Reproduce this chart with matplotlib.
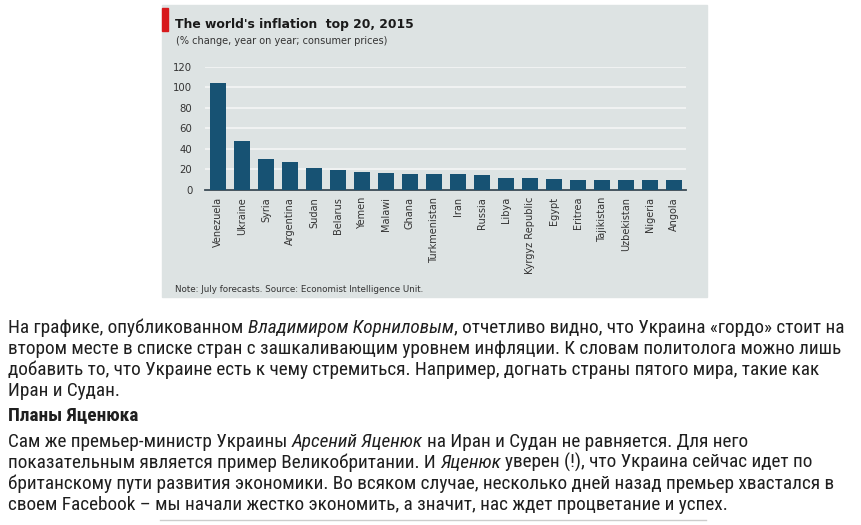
import matplotlib
matplotlib.use('Agg')
import matplotlib.pyplot as plt
from matplotlib import font_manager
from matplotlib.patches import Rectangle

# chart data
countries = ['Venezuela', 'Ukraine', 'Syria', 'Argentina', 'Sudan', 'Belarus', 'Yemen',
             'Malawi', 'Ghana', 'Turkmenistan', 'Iran', 'Russia', 'Libya', 'Kyrgyz Republic',
             'Egypt', 'Eritrea', 'Tajikistan', 'Uzbekistan', 'Nigeria', 'Angola']
inflation = [104, 48, 30, 27.5, 21.5, 19, 17.5, 16.5, 15.5, 15.5,
             15.5, 14.5, 11.5, 11.5, 10.5, 9.5, 9.5, 9.5, 9.5, 9.5]
yticks = [0, 20, 40, 60, 80, 100, 120]

title = "The world's inflation  top 20, 2015"
subtitle = "(% change, year on year; consumer prices)"
note = "Note: July forecasts. Source: Economist Intelligence Unit."

# article text: each line is a list of (text, italic)
para1 = [
    [("На графике, опубликованном ", False), ("Владимиром Корниловым", True),
     (", отчетливо видно, что Украина «гордо» стоит на", False)],
    [("втором месте в списке стран с зашкаливающим уровнем инфляции. К словам политолога можно лишь", False)],
    [("добавить то, что Украине есть к чему стремиться. Например, догнать страны пятого мира, такие как", False)],
    [("Иран и Судан.", False)],
]
heading = "Планы Яценюка"
para2 = [
    [("Сам же премьер-министр Украины ", False), ("Арсений Яценюк", True),
     (" на Иран и Судан не равняется. Для него", False)],
    [("показательным является пример Великобритании. И ", False), ("Яценюк", True),
     (" уверен (!), что Украина сейчас идет по", False)],
    [("британскому пути развития экономики. Во всяком случае, несколько дней назад премьер хвастался в", False)],
    [("своем Facebook – мы начали жестко экономить, а значит, нас ждет процветание и успех.", False)],
]

W, H = 861, 525
fig = plt.figure(figsize=(W / 100, H / 100), dpi=100)
fig.patch.set_facecolor('white')

bg = '#dde3e3'
bar_color = '#175273'

# chart panel background and red tag
fig.patches.append(Rectangle((162 / W, 1 - 297 / H), (707 - 162) / W, (297 - 5) / H,
                             transform=fig.transFigure, color=bg, zorder=-2))
fig.patches.append(Rectangle((162 / W, 1 - 31 / H), 6 / W, 23 / H,
                             transform=fig.transFigure, color='#d7191c', zorder=-1))

fig.text(175 / W, 1 - 28 / H, title, fontsize=8.9, fontweight='bold', color='#1a1a1a',
         family='DejaVu Sans', va='baseline')
fig.text(176 / W, 1 - 44 / H, subtitle, fontsize=7, color='#333333',
         family='DejaVu Sans', va='baseline')
fig.text(175 / W, 1 - 292 / H, note, fontsize=6.3, color='#333333',
         family='DejaVu Sans', va='baseline')

ax = fig.add_axes([205 / W, 1 - 190 / H, (686 - 205) / W, (190 - 66.7) / H])
ax.set_facecolor('none')
ax.bar(range(len(countries)), inflation, width=0.66, color=bar_color, zorder=3)
ax.set_xlim(-0.54, len(countries) - 0.5)
ax.set_ylim(0, 120)
ax.set_yticks(yticks)
ax.yaxis.grid(True, color='#f4f6f6', linewidth=1.2, zorder=1)
ax.set_axisbelow(True)
ax.set_xticks(range(len(countries)))
ax.set_xticklabels(countries, rotation=90, fontsize=7, color='#333333', family='DejaVu Sans')
for lab in ax.get_yticklabels():
    lab.set_fontsize(7.3)
    lab.set_color('#333333')
ax.tick_params(axis='both', length=0)
ax.tick_params(axis='y', pad=9)
ax.tick_params(axis='x', pad=5)
for s in ['top', 'right', 'left']:
    ax.spines[s].set_visible(False)
ax.spines['bottom'].set_color('#3a4a55')
ax.spines['bottom'].set_linewidth(1.3)

# article text below the chart
names = {f.name for f in font_manager.fontManager.ttflist}
body_font = 'Roboto'
for cand in ['Roboto Condensed', 'Liberation Sans Narrow', 'Roboto']:
    if cand in names:
        body_font = cand
        break

renderer = fig.canvas.get_renderer()


def text_width(s, size, style='normal', weight='normal'):
    t = fig.text(0, 0, s, fontsize=size, family=body_font, style=style, fontweight=weight)
    w = t.get_window_extent(renderer).width
    t.remove()
    return w


# choose a size so the first line spans the same width as in the picture
trial = 12.0
line1 = ''.join(s for s, _ in para1[0])
body_size = trial * (849 - 8) / text_width(line1, trial)
space_w = text_width('x x', body_size) - text_width('xx', body_size)


def draw_line(segments, y, weight='normal'):
    x = 8.0
    for seg, italic in segments:
        style = 'italic' if italic else 'normal'
        if seg.startswith(' '):
            x += space_w
        core = seg.strip()
        t = fig.text(x / W, 1 - y / H, core, fontsize=body_size, family=body_font,
                     style=style, fontweight=weight, color='#1f1f1f', va='baseline')
        x += t.get_window_extent(renderer).width
        if seg.endswith(' '):
            x += space_w


y = 333
for line in para1:
    draw_line(line, y)
    y += 21
draw_line([(heading, False)], 420, weight='bold')
y = 447
for line in para2:
    draw_line(line, y)
    y += 21

# thin separator at the bottom
fig.add_artist(plt.Line2D([160 / W, 706 / W], [1 - 520 / H, 1 - 520 / H],
                          transform=fig.transFigure, color='#cccccc', linewidth=1))

fig.savefig('out.png', dpi=100)
